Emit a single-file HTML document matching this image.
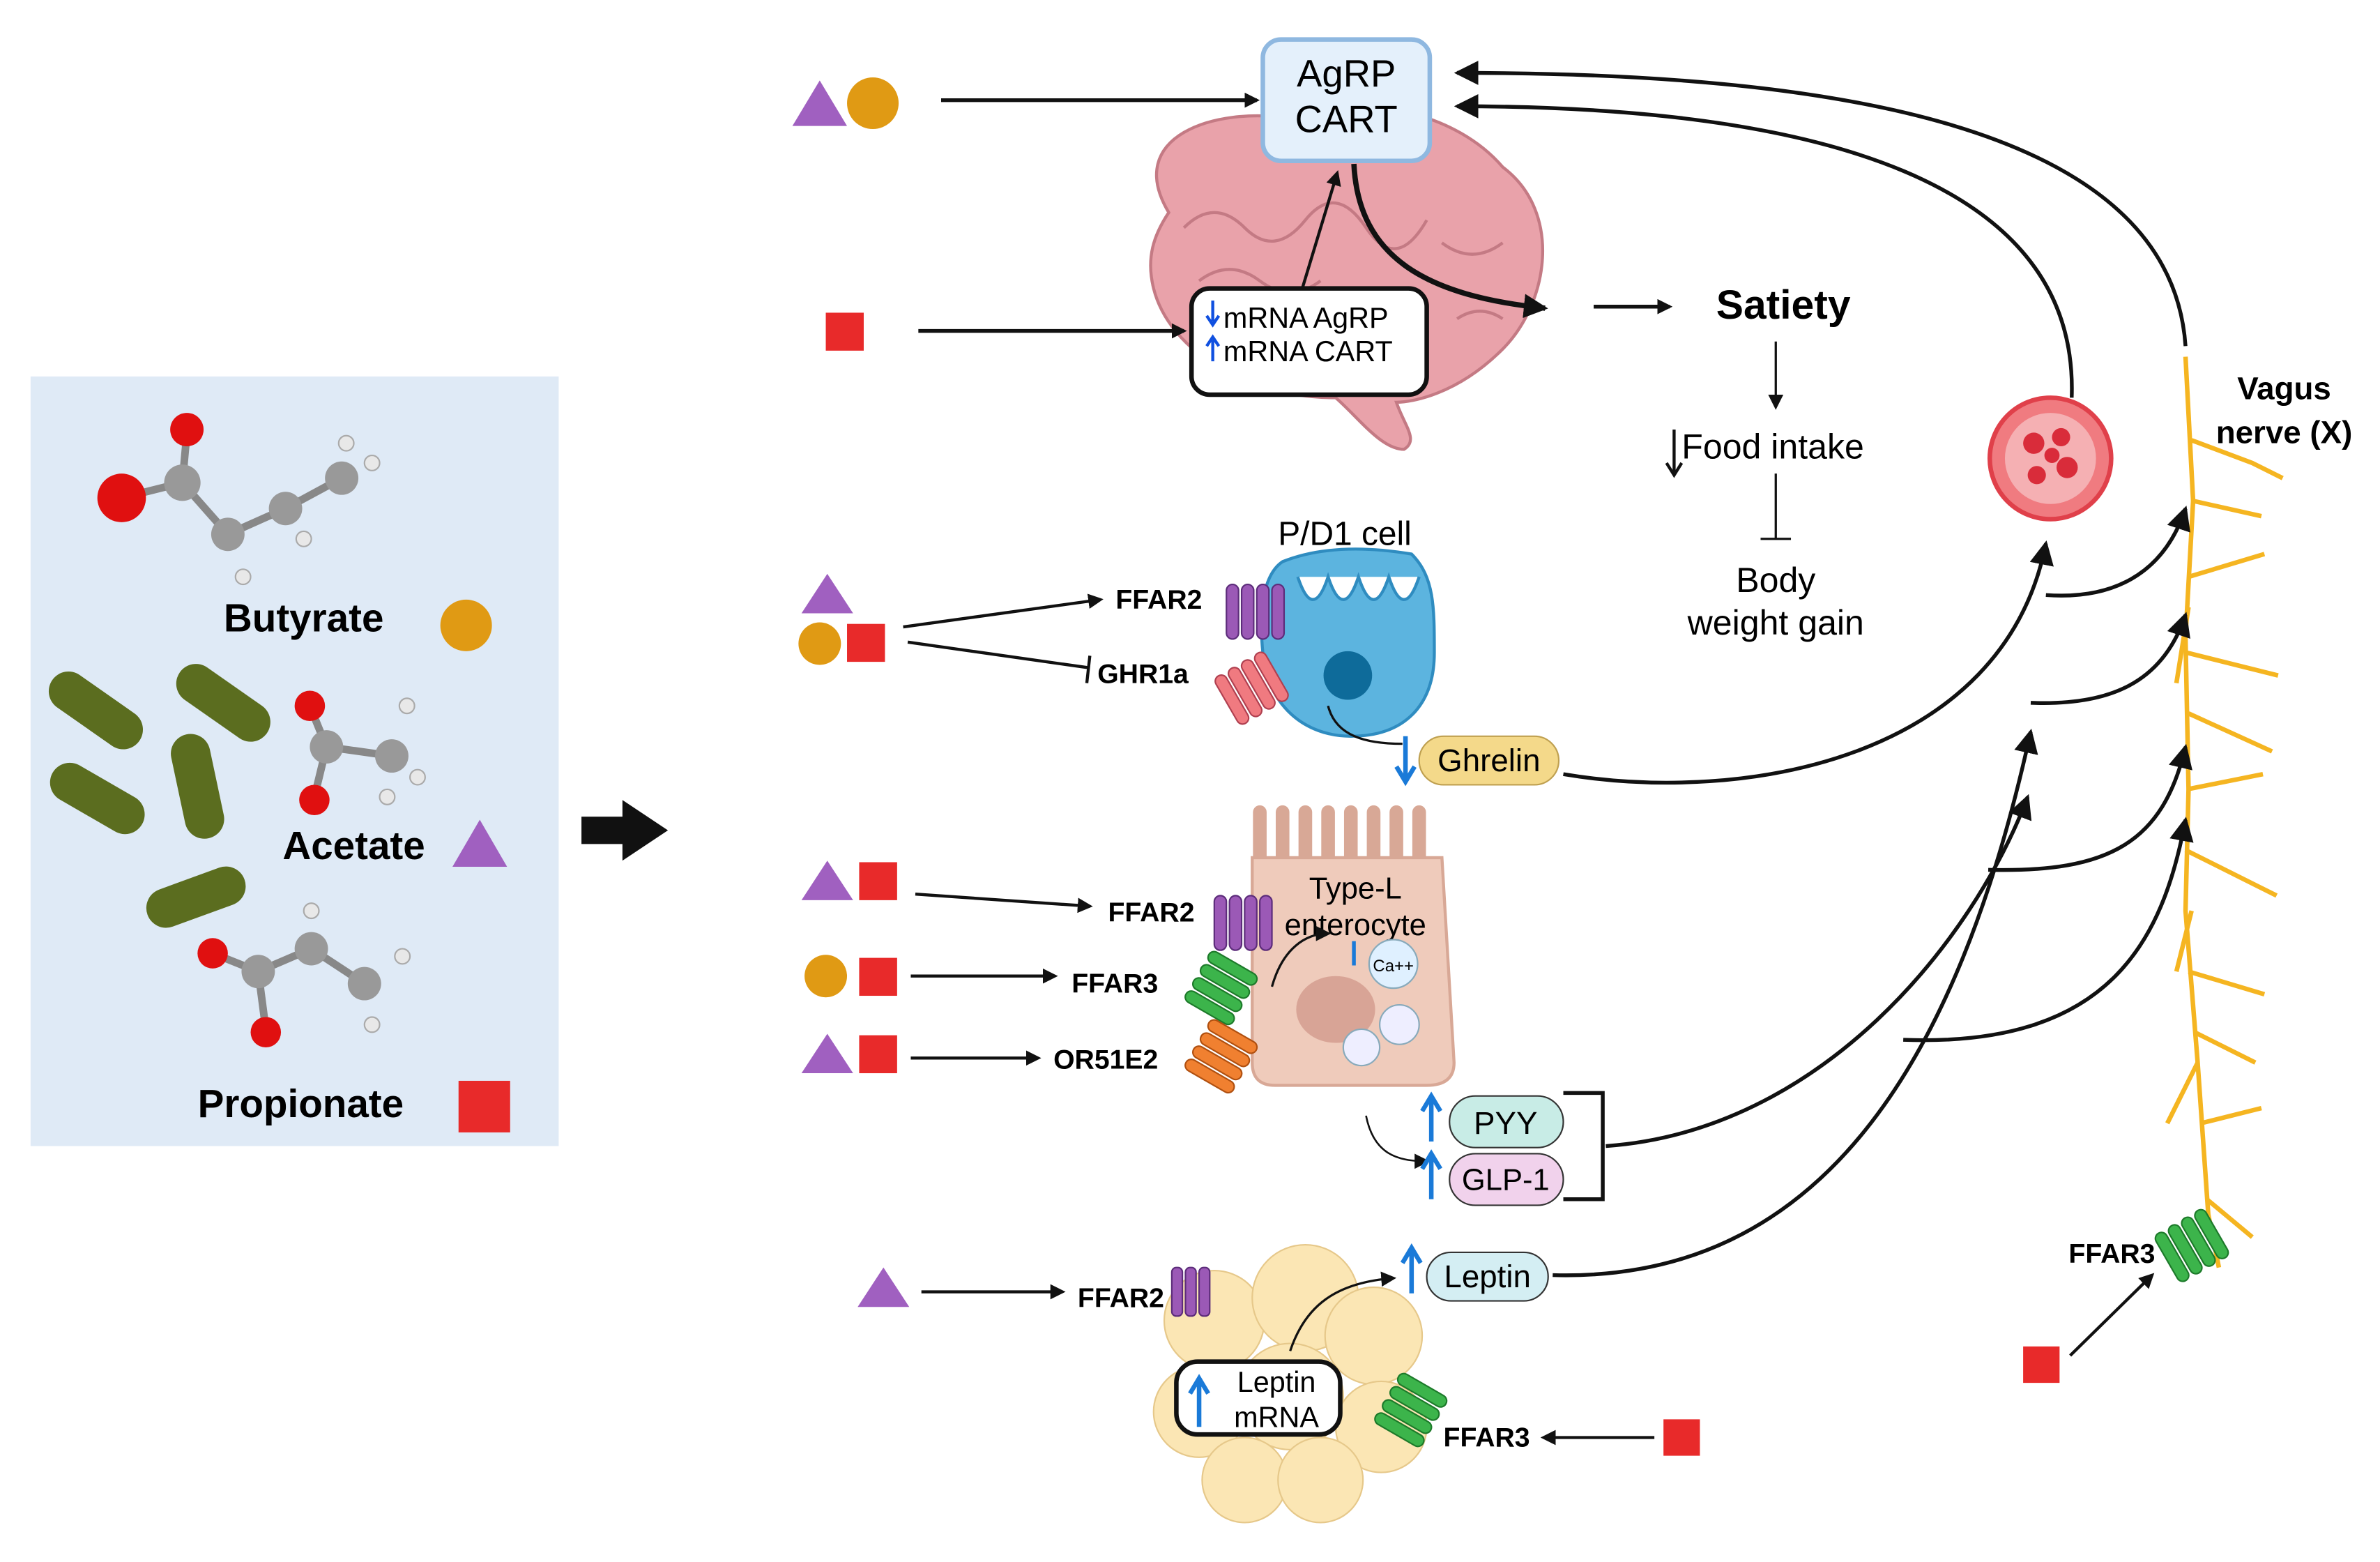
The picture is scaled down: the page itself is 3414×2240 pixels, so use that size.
<!DOCTYPE html>
<html><head><meta charset="utf-8"><style>
html,body{margin:0;padding:0;background:#fff}
svg{display:block}
text{font-family:"Liberation Sans",sans-serif}
</style></head><body>
<svg width="3414" height="2240" viewBox="0 0 1568 1029" xmlns="http://www.w3.org/2000/svg">
<defs>
<marker id="a" markerWidth="10" markerHeight="10" refX="8" refY="5" orient="auto" markerUnits="userSpaceOnUse"><path d="M0,0 L10,5 L0,10 z" fill="#111"/></marker>
<marker id="ab" markerWidth="16" markerHeight="16" refX="14" refY="8" orient="auto" markerUnits="userSpaceOnUse"><path d="M0,0 L16,8 L0,16 z" fill="#111"/></marker>
</defs>
<rect width="1568" height="1029" fill="#fff"/>
<!-- left panel -->
<rect x="20" y="248" width="348" height="507" fill="#dfeaf6"/>
<g stroke="#888" stroke-width="5">
<line x1="120" y1="318" x2="150" y2="352"/><line x1="150" y1="352" x2="188" y2="335"/><line x1="188" y1="335" x2="225" y2="315"/><line x1="120" y1="318" x2="123" y2="285"/><line x1="120" y1="318" x2="80" y2="328"/>
<line x1="215" y1="492" x2="258" y2="498"/><line x1="215" y1="492" x2="204" y2="465"/><line x1="215" y1="492" x2="207" y2="525"/>
<line x1="170" y1="640" x2="205" y2="625"/><line x1="205" y1="625" x2="240" y2="648"/><line x1="170" y1="640" x2="140" y2="628"/><line x1="170" y1="640" x2="175" y2="678"/>
</g>
<g fill="#999"><circle cx="120" cy="318" r="12"/><circle cx="150" cy="352" r="11"/><circle cx="188" cy="335" r="11"/><circle cx="225" cy="315" r="11"/>
<circle cx="215" cy="492" r="11"/><circle cx="258" cy="498" r="11"/><circle cx="170" cy="640" r="11"/><circle cx="205" cy="625" r="11"/><circle cx="240" cy="648" r="11"/></g>
<g fill="#e8e8e8" stroke="#aaa"><circle cx="160" cy="380" r="5"/><circle cx="200" cy="355" r="5"/><circle cx="245" cy="305" r="5"/><circle cx="228" cy="292" r="5"/><circle cx="268" cy="465" r="5"/><circle cx="275" cy="512" r="5"/><circle cx="255" cy="525" r="5"/><circle cx="205" cy="600" r="5"/><circle cx="265" cy="630" r="5"/><circle cx="245" cy="675" r="5"/></g>
<g fill="#e01010"><circle cx="80" cy="328" r="16"/><circle cx="123" cy="283" r="11"/><circle cx="204" cy="465" r="10"/><circle cx="207" cy="527" r="10"/><circle cx="140" cy="628" r="10"/><circle cx="175" cy="680" r="10"/></g>
<g fill="#5b6d1f">
<rect x="28" y="455" width="70" height="26" rx="13" transform="rotate(35 63 468)"/>
<rect x="112" y="450" width="70" height="26" rx="13" transform="rotate(35 147 463)"/>
<rect x="30" y="513" width="68" height="26" rx="13" transform="rotate(30 64 526)"/>
<rect x="95" y="505" width="70" height="26" rx="13" transform="rotate(78 130 518)"/>
<rect x="95" y="578" width="68" height="26" rx="13" transform="rotate(-20 129 591)"/>
</g>
<text x="200" y="416" font-size="26" font-weight="bold" text-anchor="middle">Butyrate</text>
<circle cx="307" cy="412" r="17" fill="#e09a14"/>
<text x="233" y="566" font-size="26" font-weight="bold" text-anchor="middle">Acetate</text>
<path d="M298,571 L316,540 L334,571 z" fill="#a060c0"/>
<text x="198" y="736" font-size="26" font-weight="bold" text-anchor="middle">Propionate</text>
<rect x="302" y="712" width="34" height="34" fill="#e82a2a"/>
<path d="M383,538 L410,538 L410,527 L440,547 L410,567 L410,556 L383,556 z" fill="#111"/>
<!-- brain -->
<path d="M770,140 C740,90 800,70 850,78 C900,60 960,75 990,110 C1030,140 1020,200 990,230 C960,260 930,265 920,265 C925,280 935,290 925,296 C910,296 895,275 880,262 C820,262 770,230 760,190 C755,170 760,155 770,140 z" fill="#e9a2aa" stroke="#c47a84" stroke-width="2"/>
<g fill="none" stroke="#c47a84" stroke-width="2">
<path d="M780,150 q20,-20 40,0 t40,-5 t40,5 t40,-5"/><path d="M790,185 q20,-15 40,0 t40,0"/><path d="M950,160 q20,15 40,0"/><path d="M960,210 q15,-10 30,0"/><path d="M890,240 q20,10 40,0"/></g>
<rect x="832" y="26" width="110" height="80" rx="12" fill="#e4f0fb" stroke="#8fb8e0" stroke-width="3"/>
<text x="887" y="57" font-size="25" text-anchor="middle">AgRP</text>
<text x="887" y="87" font-size="25" text-anchor="middle">CART</text>
<path d="M522,83 L540,53 L558,83 z" fill="#a060c0"/><circle cx="575" cy="68" r="17" fill="#e09a14"/>
<line x1="620" y1="66" x2="828" y2="66" stroke="#111" stroke-width="2.5" marker-end="url(#a)"/>
<rect x="544" y="206" width="25" height="25" fill="#e82a2a"/>
<line x1="605" y1="218" x2="780" y2="218" stroke="#111" stroke-width="2.5" marker-end="url(#a)"/>
<rect x="785" y="190" width="155" height="70" rx="12" fill="#fff" stroke="#111" stroke-width="3"/>
<text x="806" y="216" font-size="19">mRNA AgRP</text><text x="806" y="238" font-size="19">mRNA CART</text>
<path d="M799,198 v14 M795,208 l4,6 l4,-6" stroke="#1050e0" stroke-width="2" fill="none"/>
<path d="M799,238 v-14 M795,228 l4,-6 l4,6" stroke="#1050e0" stroke-width="2" fill="none"/>
<line x1="858" y1="190" x2="881" y2="114" stroke="#111" stroke-width="2" marker-end="url(#a)"/>
<path d="M892,108 C895,170 940,195 1018,203" fill="none" stroke="#111" stroke-width="3.5" marker-end="url(#ab)"/>
<line x1="1050" y1="202" x2="1100" y2="202" stroke="#111" stroke-width="2.5" marker-end="url(#a)"/>
<text x="1175" y="210" font-size="27" font-weight="bold" text-anchor="middle">Satiety</text>
<line x1="1170" y1="225" x2="1170" y2="268" stroke="#111" stroke-width="1.5" marker-end="url(#a)"/>
<text x="1108" y="302" font-size="23">Food intake</text>
<path d="M1103,283 v28 M1098,305 l5,8 l5,-8" stroke="#111" stroke-width="2" fill="none"/>
<line x1="1170" y1="312" x2="1170" y2="355" stroke="#111" stroke-width="1.5"/><line x1="1160" y1="355" x2="1180" y2="355" stroke="#111" stroke-width="1.5"/>
<text x="1170" y="390" font-size="23" text-anchor="middle">Body</text>
<text x="1170" y="418" font-size="23" text-anchor="middle">weight gain</text>
<!-- blood cell -->
<circle cx="1351" cy="302" r="40" fill="#f07b80" stroke="#e0404a" stroke-width="3"/>
<circle cx="1351" cy="302" r="30" fill="#f5b0b3"/>
<g fill="#d92c3a"><circle cx="1340" cy="292" r="7"/><circle cx="1358" cy="288" r="6"/><circle cx="1362" cy="308" r="7"/><circle cx="1342" cy="313" r="6"/><circle cx="1352" cy="300" r="5"/></g>
<path d="M1365,262 C1370,120 1200,70 960,70" fill="none" stroke="#111" stroke-width="2.5" marker-end="url(#ab)"/>
<path d="M1440,228 C1430,80 1200,48 960,48" fill="none" stroke="#111" stroke-width="2.5" marker-end="url(#ab)"/>
<!-- vagus -->
<g stroke="#f5b521" stroke-width="3" fill="none">
<path d="M1440,235 L1445,330 L1440,420 L1442,520 L1440,600 L1448,700 L1455,800 L1462,835"/>
<path d="M1444,290 l40,15 l20,10 M1445,330 l45,10 M1442,380 l50,-15 M1441,430 l60,15 M1442,470 l55,25 M1441,520 l50,-10 M1440,560 l60,30 M1442,640 l50,15 M1446,680 l40,20 M1450,740 l40,-10 M1454,790 l30,25 M1448,700 l-20,40 M1444,600 l-10,40 M1442,400 l-8,50"/></g>
<text x="1505" y="263" font-size="21" font-weight="bold" text-anchor="middle">Vagus</text>
<text x="1505" y="292" font-size="21" font-weight="bold" text-anchor="middle">nerve (X)</text>
<!-- P/D1 cell -->
<text x="886" y="359" font-size="22" text-anchor="middle">P/D1 cell</text>
<path d="M845,370 C830,380 830,410 832,430 C835,465 860,485 890,485 C925,485 945,465 945,430 C945,400 945,380 930,365 C900,360 870,360 845,370 z" fill="#5cb4df" stroke="#2f8cc0" stroke-width="2"/>
<path d="M855,380 q10,30 20,0 q10,30 20,0 q10,30 20,0 q10,30 20,0" fill="#fff" stroke="#2f8cc0" stroke-width="2"/>
<circle cx="888" cy="445" r="16" fill="#0e6b9a"/>
<g fill="#9b59b6" stroke="#5c2c7a"><rect x="808" y="385" width="8" height="36" rx="4"/><rect x="818" y="385" width="8" height="36" rx="4"/><rect x="828" y="385" width="8" height="36" rx="4"/><rect x="838" y="385" width="8" height="36" rx="4"/></g>
<g fill="#f07a80" stroke="#b04050" transform="rotate(-30 825 452)"><rect x="805" y="435" width="8" height="36" rx="4"/><rect x="815" y="435" width="8" height="36" rx="4"/><rect x="825" y="435" width="8" height="36" rx="4"/><rect x="835" y="435" width="8" height="36" rx="4"/></g>
<path d="M528,404 L545,378 L562,404 z" fill="#a060c0"/><circle cx="540" cy="424" r="14" fill="#e09a14"/><rect x="558" y="411" width="25" height="25" fill="#e82a2a"/>
<line x1="595" y1="413" x2="725" y2="395" stroke="#111" stroke-width="2" marker-end="url(#a)"/>
<line x1="598" y1="423" x2="718" y2="440" stroke="#111" stroke-width="2"/><line x1="718" y1="432" x2="716" y2="450" stroke="#111" stroke-width="2"/>
<text x="735" y="401" font-size="18" font-weight="bold">FFAR2</text>
<text x="723" y="450" font-size="18" font-weight="bold">GHR1a</text>
<path d="M875,465 C880,485 900,490 924,490" fill="none" stroke="#111" stroke-width="1.5"/>
<path d="M926,485 v28 M920,505 l6,10 l6,-10" stroke="#1a7ad8" stroke-width="3" fill="none"/>
<rect x="935" y="485" width="92" height="32" rx="16" fill="#f4d98a" stroke="#bfa050"/>
<text x="981" y="508" font-size="21" text-anchor="middle">Ghrelin</text>
<path d="M1030,510 C1150,530 1320,500 1348,358" fill="none" stroke="#111" stroke-width="2.5" marker-end="url(#ab)"/>
<!-- enterocyte -->
<path d="M830,575 L830,535 M845,575 L845,535 M860,575 L860,535 M875,575 L875,535 M890,575 L890,535 M905,575 L905,535 M920,575 L920,535 M935,575 L935,535" stroke="#d8a896" stroke-width="9" stroke-linecap="round"/>
<path d="M825,565 L950,565 L958,700 Q958,715 940,715 L840,715 Q825,715 825,700 z" fill="#efcbbb" stroke="#d8a896" stroke-width="2"/>
<ellipse cx="880" cy="665" rx="26" ry="22" fill="#d8a496"/>
<text x="893" y="592" font-size="20" text-anchor="middle">Type-L</text>
<text x="893" y="616" font-size="20" text-anchor="middle">enterocyte</text>
<circle cx="918" cy="635" r="16" fill="#dff0ff" stroke="#8ab"/><text x="918" y="640" font-size="11" text-anchor="middle">Ca++</text>
<circle cx="922" cy="675" r="13" fill="#eef" stroke="#8ab"/><circle cx="897" cy="690" r="12" fill="#eef" stroke="#8ab"/>
<path d="M892,620 v16" stroke="#1a7ad8" stroke-width="2.5"/>
<g fill="#9b59b6" stroke="#5c2c7a"><rect x="800" y="590" width="8" height="36" rx="4"/><rect x="810" y="590" width="8" height="36" rx="4"/><rect x="820" y="590" width="8" height="36" rx="4"/><rect x="830" y="590" width="8" height="36" rx="4"/></g>
<g fill="#3cb44b" stroke="#1d7a2a" transform="rotate(-60 805 650)"><rect x="785" y="632" width="8" height="36" rx="4"/><rect x="795" y="632" width="8" height="36" rx="4"/><rect x="805" y="632" width="8" height="36" rx="4"/><rect x="815" y="632" width="8" height="36" rx="4"/></g>
<g fill="#f08030" stroke="#b05010" transform="rotate(-60 805 695)"><rect x="785" y="677" width="8" height="36" rx="4"/><rect x="795" y="677" width="8" height="36" rx="4"/><rect x="805" y="677" width="8" height="36" rx="4"/><rect x="815" y="677" width="8" height="36" rx="4"/></g>
<path d="M838,650 C845,625 860,615 875,615" fill="none" stroke="#111" stroke-width="1.5" marker-end="url(#a)"/>
<path d="M528,593 L545,567 L562,593 z" fill="#a060c0"/><rect x="566" y="568" width="25" height="25" fill="#e82a2a"/>
<circle cx="544" cy="643" r="14" fill="#e09a14"/><rect x="566" y="631" width="25" height="25" fill="#e82a2a"/>
<path d="M528,707 L545,681 L562,707 z" fill="#a060c0"/><rect x="566" y="682" width="25" height="25" fill="#e82a2a"/>
<line x1="603" y1="589" x2="718" y2="597" stroke="#111" stroke-width="2" marker-end="url(#a)"/>
<line x1="600" y1="643" x2="695" y2="643" stroke="#111" stroke-width="2" marker-end="url(#a)"/>
<line x1="600" y1="697" x2="684" y2="697" stroke="#111" stroke-width="2" marker-end="url(#a)"/>
<text x="730" y="607" font-size="18" font-weight="bold">FFAR2</text>
<text x="706" y="654" font-size="18" font-weight="bold">FFAR3</text>
<text x="694" y="704" font-size="18" font-weight="bold">OR51E2</text>
<path d="M900,735 C905,760 920,765 940,765" fill="none" stroke="#111" stroke-width="1.2" marker-end="url(#a)"/>
<path d="M943,752 v-28 M937,732 l6,-10 l6,10 M943,790 v-28 M937,770 l6,-10 l6,10" stroke="#1a7ad8" stroke-width="3" fill="none"/>
<rect x="955" y="722" width="75" height="34" rx="17" fill="#c8ece6" stroke="#333"/><text x="992" y="747" font-size="21" text-anchor="middle">PYY</text>
<rect x="955" y="760" width="75" height="34" rx="17" fill="#f1d2ec" stroke="#333"/><text x="992" y="784" font-size="20" text-anchor="middle">GLP-1</text>
<path d="M1030,720 L1056,720 L1056,790 L1030,790" fill="none" stroke="#111" stroke-width="2.5"/>
<path d="M1058,755 C1200,745 1300,620 1336,525" fill="none" stroke="#111" stroke-width="2.5" marker-end="url(#ab)"/>
<!-- adipose -->
<g fill="#fbe6b4" stroke="#e6c88a">
<circle cx="800" cy="870" r="33"/><circle cx="860" cy="855" r="35"/><circle cx="905" cy="880" r="32"/><circle cx="790" cy="930" r="30"/><circle cx="850" cy="920" r="35"/><circle cx="910" cy="940" r="30"/><circle cx="820" cy="975" r="28"/><circle cx="870" cy="975" r="28"/></g>
<rect x="775" y="897" width="108" height="48" rx="14" fill="#fff" stroke="#111" stroke-width="3"/>
<text x="841" y="917" font-size="19" text-anchor="middle">Leptin</text><text x="841" y="940" font-size="19" text-anchor="middle">mRNA</text>
<path d="M790,940 v-30 M784,918 l6,-10 l6,10" stroke="#1a7ad8" stroke-width="3" fill="none"/>
<path d="M850,890 C860,860 880,845 918,842" fill="none" stroke="#111" stroke-width="1.5" marker-end="url(#a)"/>
<path d="M930,852 v-28 M924,832 l6,-10 l6,10" stroke="#1a7ad8" stroke-width="3" fill="none"/>
<rect x="940" y="825" width="80" height="32" rx="16" fill="#d4eef3" stroke="#333"/><text x="980" y="848" font-size="21" text-anchor="middle">Leptin</text>
<path d="M1023,840 C1200,845 1290,700 1338,482" fill="none" stroke="#111" stroke-width="2.5" marker-end="url(#ab)"/>
<path d="M565,861 L582,835 L599,861 z" fill="#a060c0"/>
<line x1="607" y1="851" x2="700" y2="851" stroke="#111" stroke-width="2" marker-end="url(#a)"/>
<text x="710" y="861" font-size="18" font-weight="bold">FFAR2</text>
<g fill="#9b59b6" stroke="#5c2c7a"><rect x="772" y="835" width="7" height="32" rx="3"/><rect x="781" y="835" width="7" height="32" rx="3"/><rect x="790" y="835" width="7" height="32" rx="3"/></g>
<g fill="#3cb44b" stroke="#1d7a2a" transform="rotate(-60 930 928)"><rect x="910" y="910" width="8" height="36" rx="4"/><rect x="920" y="910" width="8" height="36" rx="4"/><rect x="930" y="910" width="8" height="36" rx="4"/><rect x="940" y="910" width="8" height="36" rx="4"/></g>
<text x="951" y="953" font-size="18" font-weight="bold">FFAR3</text>
<rect x="1096" y="935" width="24" height="24" fill="#e82a2a"/>
<line x1="1090" y1="947" x2="1017" y2="947" stroke="#111" stroke-width="2" marker-end="url(#a)"/>
<!-- vagus FFAR3 -->
<g fill="#3cb44b" stroke="#1d7a2a" transform="rotate(-30 1445 820)"><rect x="1425" y="802" width="8" height="36" rx="4"/><rect x="1435" y="802" width="8" height="36" rx="4"/><rect x="1445" y="802" width="8" height="36" rx="4"/><rect x="1455" y="802" width="8" height="36" rx="4"/></g>
<text x="1363" y="832" font-size="18" font-weight="bold">FFAR3</text>
<rect x="1333" y="887" width="24" height="24" fill="#e82a2a"/>
<line x1="1364" y1="893" x2="1418" y2="840" stroke="#111" stroke-width="2" marker-end="url(#a)"/>
<!-- branches to vagus -->
<g fill="none" stroke="#111" stroke-width="2.5">
<path d="M1348,392 C1390,395 1425,380 1440,335" marker-end="url(#ab)"/>
<path d="M1338,463 C1390,465 1425,450 1440,405" marker-end="url(#ab)"/>
<path d="M1310,573 C1390,575 1425,555 1440,492" marker-end="url(#ab)"/>
<path d="M1254,685 C1390,690 1425,620 1440,540" marker-end="url(#ab)"/>
</g>
</svg>
</body></html>
